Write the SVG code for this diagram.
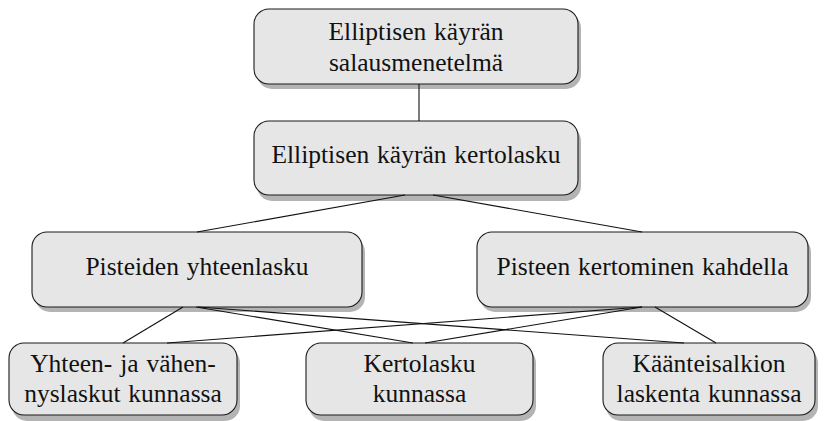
<svg xmlns="http://www.w3.org/2000/svg" width="824" height="421" viewBox="0 0 824 421">
<defs>
<style>
.shadow{fill:#b4b4b4;}
.box{fill:#e6e6e6;stroke:#1a1a1a;stroke-width:1.1;}
.t{font-family:"Liberation Serif","Times New Roman",serif;font-size:25.5px;word-spacing:1.5px;fill:#111;text-anchor:middle;}
.edge{stroke:#111;stroke-width:1.1;fill:none;}
</style>
</defs>
<rect width="824" height="421" fill="#ffffff"/>
<g id="n1">
<rect class="shadow" x="257" y="13" width="324" height="76" rx="15"/>
<rect class="box" x="254" y="9" width="324" height="75" rx="15"/>
<text class="t" x="416" y="40">Elliptisen käyrän</text>
<text class="t" x="416" y="71">salausmenetelmä</text>
</g>
<g id="n2">
<rect class="shadow" x="257" y="126" width="324" height="75" rx="15"/>
<rect class="box" x="254" y="121" width="324" height="74" rx="15"/>
<text class="t" x="416" y="163">Elliptisen käyrän kertolasku</text>
</g>
<g id="n3">
<rect class="shadow" x="35" y="237" width="330" height="75" rx="15"/>
<rect class="box" x="32" y="232" width="330" height="75" rx="15"/>
<text class="t" x="197" y="275">Pisteiden yhteenlasku</text>
</g>
<g id="n4">
<rect class="shadow" x="480" y="237" width="331" height="75" rx="15"/>
<rect class="box" x="477" y="232" width="331" height="75" rx="15"/>
<text class="t" x="642.5" y="275">Pisteen kertominen kahdella</text>
</g>
<g id="n5">
<rect class="shadow" x="12" y="348" width="228" height="73" rx="15"/>
<rect class="box" x="9" y="343" width="228" height="72" rx="15"/>
<text class="t" x="123" y="372">Yhteen- ja vähen-</text>
<text class="t" x="123" y="402">nyslaskut kunnassa</text>
</g>
<g id="n6">
<rect class="shadow" x="309" y="348" width="227" height="73" rx="15"/>
<rect class="box" x="306" y="343" width="227" height="72" rx="15"/>
<text class="t" x="419.5" y="372">Kertolasku</text>
<text class="t" x="419.5" y="402">kunnassa</text>
</g>
<g id="n7">
<rect class="shadow" x="606" y="348" width="212" height="73" rx="15"/>
<rect class="box" x="603" y="343" width="212" height="72" rx="15"/>
<text class="t" x="709" y="372">Käänteisalkion</text>
<text class="t" x="709" y="402">laskenta kunnassa</text>
</g>
<g id="connectors">
<line class="edge" x1="419" y1="84" x2="419" y2="121"/>
<line class="edge" x1="405" y1="195" x2="197" y2="232"/>
<line class="edge" x1="433" y1="195" x2="642" y2="232"/>
<line class="edge" x1="183" y1="307" x2="123" y2="343"/>
<line class="edge" x1="196" y1="307" x2="413" y2="343"/>
<line class="edge" x1="198" y1="307" x2="684" y2="343"/>
<line class="edge" x1="642" y1="307" x2="167" y2="343"/>
<line class="edge" x1="642" y1="307" x2="425" y2="343"/>
<line class="edge" x1="655" y1="307" x2="716" y2="343"/>
</g>
</svg>
